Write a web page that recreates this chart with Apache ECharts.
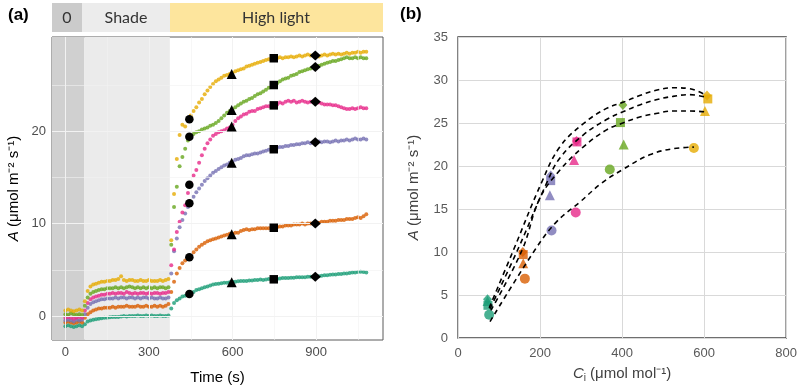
<!DOCTYPE html>
<html>
<head>
<meta charset="utf-8">
<script src="https://cdn.jsdelivr.net/npm/echarts@6/dist/echarts.min.js"></script>
<style>
html,body{margin:0;padding:0;background:#fff;}
#chart{width:800px;height:391px;}
</style>
</head>
<body>
<div id="chart"></div>
<script>
// ---------- Panel (a): time course data ----------
const time = [0,10,20,30,40,50,60,70,80,90,100,110,120,130,140,150,160,170,180,190,200,210,220,230,240,250,260,270,280,290,300,310,320,330,340,350,360,370,
380,390,400,410,420,430,440,450,460,470,480,490,500,510,520,530,540,550,560,570,580,590,600,610,620,630,640,650,660,670,680,690,700,710,720,730,740,750,760,770,780,790,800,810,820,830,840,850,860,870,880,890,900,910,920,930,940,950,960,970,980,990,1000,1010,1020,1030,1040,1050,1060,1070,1080];

const seriesNames = ['teal','orange','purple','pink','green','yellow'];
const seriesColors = ['#1B9E77','#D95F02','#7570B3','#E7298A','#66A61E','#E6AB02'];

const yellowA = [0.6,0.7,0.6,0.5,0.6,0.7,0.6,1.6,2.7,3.2,3.4,3.5,3.6,3.7,3.7,3.8,3.8,3.9,3.9,4.0,4.3,3.9,3.8,3.9,3.9,3.8,3.8,3.9,3.8,3.8,3.9,3.8,3.8,3.8,3.9,3.8,3.9,4.0,
8.2,13.2,17.0,19.6,20.7,20.5,21.2,21.7,22.2,22.6,23.1,23.5,24.0,24.4,24.8,25.1,25.4,25.6,25.8,26.0,26.1,26.2,26.3,26.5,26.6,26.7,26.8,27.0,27.1,27.2,27.3,27.4,27.5,27.6,27.7,27.8,27.9,27.9,27.9,28.0,27.9,28.0,28.0,28.1,28.0,28.1,28.2,28.1,28.2,28.3,28.2,28.2,28.2,28.1,28.2,28.3,28.2,28.3,28.4,28.3,28.4,28.3,28.4,28.5,28.4,28.5,28.5,28.6,28.5,28.6,28.6];
const greenA = [0.2,0.1,0.3,0.2,0.1,0.2,0.1,1.1,2.0,2.4,2.6,2.7,2.8,2.9,2.9,3.0,3.0,3.0,3.1,3.0,3.1,3.0,3.1,3.2,3.1,3.0,3.1,3.0,3.1,3.0,3.1,3.0,3.1,3.0,3.1,3.1,3.0,3.1,
7.7,11.8,14.0,16.2,17.2,18.1,19.0,19.5,19.7,19.9,20.0,20.2,20.3,20.4,20.6,20.7,20.9,21.1,21.4,21.7,22.0,22.2,22.4,22.6,22.8,23.0,23.2,23.3,23.5,23.6,23.8,24.0,24.1,24.3,24.5,24.7,24.9,25.0,25.2,25.4,25.6,25.7,25.8,26.0,26.1,26.2,26.4,26.5,26.6,26.7,26.8,26.9,27.0,27.1,27.2,27.3,27.4,27.5,27.6,27.6,27.7,27.8,27.9,28.0,27.9,27.9,28.0,27.9,28.0,27.9,27.9];
const pinkA = [-0.2,-0.1,-0.2,-0.3,-0.2,-0.1,-0.2,0.6,1.4,1.8,2.0,2.1,2.2,2.3,2.3,2.4,2.4,2.5,2.4,2.5,2.5,2.4,2.6,2.5,2.4,2.5,2.4,2.5,2.5,2.4,2.5,2.4,2.5,2.5,2.4,2.5,2.5,2.6,
5.5,7.2,9.1,10.2,11.2,12.0,13.3,14.4,15.2,15.8,16.6,17.4,18.1,18.7,19.1,19.5,19.7,19.9,20.0,20.1,20.3,20.4,20.7,21.1,21.4,21.6,21.8,21.9,22.1,22.2,22.2,22.4,22.5,22.6,22.7,22.7,22.8,22.8,22.9,23.1,23.0,23.2,23.3,23.2,23.3,23.1,23.2,23.3,23.2,23.1,23.2,23.2,23.1,23.1,23.0,22.9,22.9,22.9,22.8,22.8,22.7,22.6,22.5,22.4,22.4,22.5,22.4,22.5,22.6,22.5,22.5];
const purpleA = [-0.5,-0.4,-0.5,-0.6,-0.4,-0.5,-0.4,0.2,0.9,1.3,1.5,1.6,1.7,1.8,1.8,1.9,1.9,1.9,2.0,1.9,2.0,2.0,1.9,2.0,2.0,1.9,2.0,1.9,2.0,2.0,1.9,2.0,1.9,1.9,2.0,1.9,1.9,2.0,
4.6,7.0,8.4,9.6,10.4,11.1,11.8,12.3,12.9,13.4,13.8,14.2,14.6,14.9,15.2,15.5,15.7,15.9,16.1,16.3,16.4,16.6,16.7,16.9,17.0,17.1,17.3,17.4,17.4,17.5,17.6,17.6,17.7,17.8,17.9,18.0,18.1,18.1,18.2,18.3,18.3,18.4,18.4,18.5,18.5,18.6,18.6,18.7,18.7,18.8,18.7,18.8,18.8,18.9,18.8,18.9,18.9,18.8,18.9,19.0,18.9,19.0,19.0,19.1,19.0,19.1,19.2,19.1,19.1,19.2,19.1];
const orangeA = [-0.7,-0.6,-0.7,-0.8,-0.7,-0.6,-0.7,-0.2,0.2,0.4,0.6,0.7,0.8,0.8,0.9,0.9,0.9,1.0,0.9,1.0,1.0,1.0,1.1,1.0,1.0,1.0,1.1,1.0,1.0,1.1,1.0,1.0,1.1,1.0,1.1,1.0,1.1,1.3,
2.6,3.7,4.6,5.2,5.7,6.0,6.3,6.5,6.9,7.2,7.5,7.7,7.9,8.1,8.2,8.3,8.4,8.5,8.6,8.7,8.8,8.9,8.9,9.0,9.0,9.2,9.3,9.4,9.3,9.4,9.4,9.5,9.5,9.5,9.5,9.5,9.6,9.6,9.6,9.7,9.7,9.8,9.8,9.8,9.9,9.9,9.9,10.0,9.9,10.0,10.0,10.0,10.1,10.1,10.2,10.2,10.2,10.3,10.3,10.3,10.4,10.4,10.4,10.5,10.5,10.5,10.6,10.7,10.6,10.8,11.0];
const tealA = [-1.1,-1.0,-1.1,-1.2,-1.1,-1.0,-1.1,-0.9,-0.6,-0.5,-0.4,-0.35,-0.3,-0.25,-0.2,-0.2,-0.15,-0.1,-0.1,-0.1,-0.05,0.0,-0.05,0.0,0.0,0.0,0.05,0.0,0.0,0.05,0.0,0.05,0.0,0.0,0.05,0.0,0.0,0.05,
0.8,1.4,1.7,1.9,2.1,2.2,2.3,2.4,2.6,2.8,2.9,3.0,3.1,3.2,3.3,3.4,3.45,3.5,3.55,3.6,3.6,3.65,3.7,3.7,3.75,3.8,3.8,3.8,3.85,3.85,3.9,3.9,3.95,3.9,3.95,4.0,4.0,4.0,4.0,4.05,4.1,4.1,4.1,4.15,4.15,4.2,4.2,4.2,4.2,4.25,4.25,4.25,4.3,4.3,4.35,4.4,4.4,4.45,4.5,4.5,4.55,4.55,4.6,4.6,4.65,4.7,4.7,4.75,4.8,4.75,4.7];

// sampled time points (black markers)
const markTimes = [445, 597, 748, 897];
const markShapes = ['circle','triangle','rect','diamond'];
const markA = {
  teal:   [2.38, 3.64, 3.97, 4.25],
  orange: [6.35, 8.85, 9.55, 10.0],
  purple: [12.2, 16.6, 18.05, 18.8],
  pink:   [14.2, 20.5, 22.8, 23.2],
  green:  [19.4, 22.3, 25.0, 26.95],
  yellow: [21.3, 26.2, 27.9, 28.2]
};

// light phases (s)
const phaseEdges = [-48, 68, 375];
const phaseLabels = ['0','Shade','High light'];
const xTicksA = [0, 300, 600, 900];
const xMinorA = [150, 450, 750, 1050];
const yTicksA = [0, 10, 20];
const yMinorA = [5, 15, 25];

// ---------- Panel (b): A vs Ci ----------
const ciCircle   = [76, 163, 228, 287, 370, 575];
const aCircle    = [2.7, 6.9, 12.5, 14.6, 19.6, 22.1];
const ciTriangle = [72, 159, 224, 283, 404, 602];
const aTriangle  = [4.3, 8.7, 16.6, 20.7, 22.5, 26.4];
const ciSquare   = [73, 159, 226, 290, 396, 609];
const aSquare    = [3.8, 9.7, 18.3, 22.8, 25.05, 27.8];
const ciDiamond  = [72, 158, 226, 289, 402, 607];
const aDiamond   = [4.5, 10.0, 18.9, 22.9, 27.1, 28.2];

const fitDiamond  = [[76,3.5],[135,10.2],[203,18.0],[248,22.2],[305,24.9],[362,26.7],[402,27.4],[443,28.2],[483,28.8],[524,29.1],[564,29.0],[605,28.2]];
const fitSquare   = [[78,3.4],[145,10.2],[216,18.0],[248,20.9],[305,23.6],[362,25.4],[402,26.3],[443,27.1],[483,27.7],[524,28.1],[564,28.3],[605,28.0]];
const fitTriangle = [[80,3.2],[156,10.2],[199,16.2],[248,19.5],[305,22.2],[362,24.2],[402,25.0],[443,25.7],[483,26.1],[524,26.4],[564,26.4],[600,26.3]];
const fitCircle   = [[78,1.9],[187,10.2],[240,13.5],[297,15.8],[350,18.0],[402,19.6],[467,21.3],[523,22.0],[575,22.2]];

// ---------- build ----------
const seriesValues = {teal: tealA, orange: orangeA, purple: purpleA, pink: pinkA, green: greenA, yellow: yellowA};
const chart = echarts.init(document.getElementById('chart'), null, {renderer: 'canvas'});

const series = [];
// shading
series.push({
  type: 'scatter', xAxisIndex: 0, yAxisIndex: 0, data: [], z: 1, silent: true,
  markArea: {
    silent: true,
    data: [
      [{xAxis: phaseEdges[0], itemStyle: {color: '#d0d0d0'}}, {xAxis: phaseEdges[1]}],
      [{xAxis: phaseEdges[1], itemStyle: {color: '#ebebeb'}}, {xAxis: phaseEdges[2]}]
    ]
  }
});
// grid lines panel a
const gl = (arr, key, w) => arr.map(v => ({[key]: v, lineStyle: {width: w}}));
series.push({
  type: 'scatter', xAxisIndex: 0, yAxisIndex: 0, data: [], z: 2, silent: true,
  markLine: {
    silent: true, symbol: 'none', label: {show: false},
    lineStyle: {color: '#f2f2f2', type: 'solid'},
    emphasis: {disabled: true},
    data: [].concat(gl(xTicksA, 'xAxis', 1), gl(xMinorA, 'xAxis', 0.6), gl(yTicksA, 'yAxis', 1), gl(yMinorA, 'yAxis', 0.6))
  }
});
seriesNames.forEach((n, i) => {
  series.push({
    type: 'scatter', name: n, xAxisIndex: 0, yAxisIndex: 0, z: 3,
    symbolSize: 4, itemStyle: {color: seriesColors[i]},
    data: time.map((t, k) => [t, seriesValues[n][k]])
  });
});
markShapes.forEach((s, j) => {
  series.push({
    type: 'scatter', xAxisIndex: 0, yAxisIndex: 0, z: 10, zlevel: 1,
    symbol: s, symbolSize: s === 'diamond' ? [11, 10] : (s === 'rect' ? 8.5 : (s === 'triangle' ? 10 : 8.5)),
    itemStyle: {color: '#000', opacity: 1},
    data: seriesNames.map(n => [markTimes[j], markA[n][j]])
  });
});

// panel b
const bPoints = [[ciCircle, aCircle, 'circle', 10], [ciTriangle, aTriangle, 'triangle', 10], [ciSquare, aSquare, 'rect', 9], [ciDiamond, aDiamond, 'diamond', [9,10]]];
[fitCircle, fitTriangle, fitSquare, fitDiamond].forEach(f => {
  series.push({
    type: 'line', xAxisIndex: 1, yAxisIndex: 1, z: 3, data: f, smooth: 0.4,
    showSymbol: false, symbol: 'none', silent: true,
    lineStyle: {color: '#000', width: 1.6, type: [5, 4]}
  });
});
bPoints.forEach(([cx, ay, shape, size]) => {
  series.push({
    type: 'scatter', xAxisIndex: 1, yAxisIndex: 1, z: 2,
    symbol: shape, symbolSize: size,
    data: cx.map((c, k) => ({value: [c, ay[k]], itemStyle: {color: seriesColors[k]}}))
  });
});

const tickLabelA = {color: '#4d4d4d', fontSize: 13, fontFamily: 'Liberation Sans'};
const option = {
  animation: false,
  grid: [
    {left: 52, top: 37, width: 331, height: 303, show: true, borderColor: '#5a5a5a', borderWidth: 1, backgroundColor: '#fff'},
    {left: 458, top: 37, width: 329, height: 301, show: true, borderColor: '#404040', borderWidth: 1.3, backgroundColor: '#fff'}
  ],
  xAxis: [
    {gridIndex: 0, type: 'value', min: -48, max: 1140,
     axisLine: {show: false}, splitLine: {show: false},
     axisTick: {show: true, length: 3, lineStyle: {color: '#333'}, customValues: xTicksA},
     axisLabel: Object.assign({customValues: xTicksA, margin: 6}, tickLabelA),
     name: 'Time (s)', nameLocation: 'middle', nameGap: 30,
     nameTextStyle: {color: '#000', fontSize: 15, fontFamily: 'Liberation Sans'}},
    {gridIndex: 1, type: 'value', min: 0, max: 800, interval: 200,
     axisLine: {show: false}, axisTick: {show: false},
     splitLine: {show: true, lineStyle: {color: '#d9d9d9', width: 1}},
     axisLabel: {color: '#595959', fontSize: 13, fontFamily: 'Liberation Sans', margin: 9},
     name: '{it|C}{sub|i} (μmol mol⁻¹)', nameLocation: 'middle', nameGap: 27,
     nameTextStyle: {color: '#404040', fontSize: 15, fontFamily: 'Liberation Sans',
       rich: {it: {fontStyle: 'italic', fontSize: 15, fontFamily: 'Liberation Sans', color: '#404040'},
              sub: {fontSize: 10, fontFamily: 'Liberation Sans', color: '#404040', padding: [8, 0, 0, 0]}}}}
  ],
  yAxis: [
    {gridIndex: 0, type: 'value', min: -2.6, max: 30.2,
     axisLine: {show: false}, splitLine: {show: false},
     axisTick: {show: true, length: 3, lineStyle: {color: '#333'}, customValues: yTicksA},
     axisLabel: Object.assign({customValues: yTicksA, margin: 6}, tickLabelA),
     name: '{it|A} (μmol m⁻² s⁻¹)', nameLocation: 'middle', nameGap: 31, nameRotate: 90,
     nameTextStyle: {color: '#000', fontSize: 15, fontFamily: 'Liberation Sans',
       rich: {it: {fontStyle: 'italic', fontSize: 15, fontFamily: 'Liberation Sans', color: '#000'}}}},
    {gridIndex: 1, type: 'value', min: 0, max: 35, interval: 5,
     axisLine: {show: false}, axisTick: {show: false},
     splitLine: {show: true, lineStyle: {color: '#d9d9d9', width: 1}},
     axisLabel: {color: '#595959', fontSize: 13, fontFamily: 'Liberation Sans', margin: 10},
     name: '{it|A} (μmol m⁻² s⁻¹)', nameLocation: 'middle', nameGap: 37, nameRotate: 90,
     nameTextStyle: {color: '#404040', fontSize: 15, fontFamily: 'Liberation Sans',
       rich: {it: {fontStyle: 'italic', fontSize: 15, fontFamily: 'Liberation Sans', color: '#404040'}}}}
  ],
  graphic: [
    {type: 'rect', shape: {x: 52, y: 3, width: 30, height: 29}, style: {fill: '#cbcbcb'}},
    {type: 'rect', shape: {x: 82, y: 3, width: 88, height: 29}, style: {fill: '#ececec'}},
    {type: 'rect', shape: {x: 170, y: 3, width: 213, height: 29}, style: {fill: '#fde59d'}},
    {type: 'text', x: 67, y: 18, style: {text: phaseLabels[0], fill: '#333', font: '16px Lato', textAlign: 'center', textVerticalAlign: 'middle'}},
    {type: 'text', x: 126, y: 18, style: {text: phaseLabels[1], fill: '#333', font: '16px Lato', textAlign: 'center', textVerticalAlign: 'middle'}},
    {type: 'text', x: 276, y: 18, style: {text: phaseLabels[2], fill: '#333', font: '16px Lato', textAlign: 'center', textVerticalAlign: 'middle'}},
    {type: 'text', x: 8, y: 15, style: {text: '(a)', fill: '#000', font: 'bold 17px Liberation Sans', textVerticalAlign: 'middle'}},
    {type: 'text', x: 400, y: 14, style: {text: '(b)', fill: '#000', font: 'bold 17px Liberation Sans', textVerticalAlign: 'middle'}}
  ],
  series: series
};
chart.setOption(option);
</script>
</body>
</html>
